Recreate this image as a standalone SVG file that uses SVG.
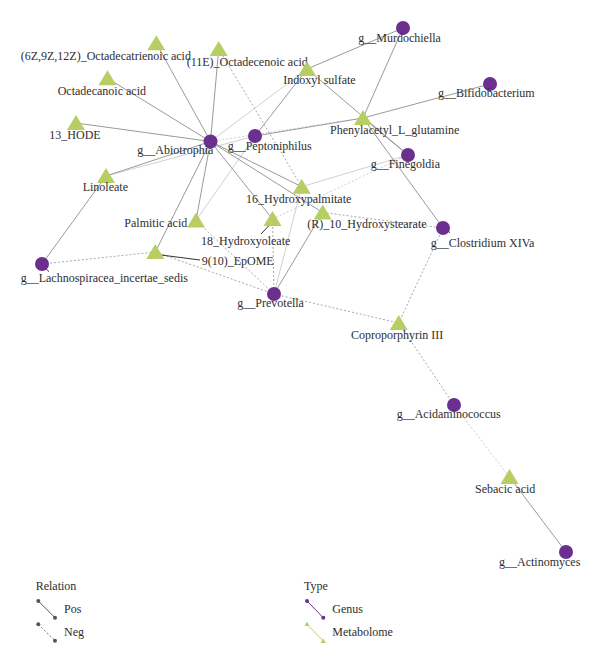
<svg xmlns="http://www.w3.org/2000/svg" width="600" height="664" viewBox="0 0 600 664">
<style>
text{font-family:"Liberation Serif","Times New Roman",serif;font-size:12px;fill:#2e2e2e}
.pos{stroke:#9a9a9a;stroke-width:1;fill:none}
.lp{stroke:#d0d0d0;stroke-width:1;fill:none}
.neg{stroke:#a8a8a8;stroke-width:1;stroke-dasharray:2 2;fill:none}
.ln{stroke:#cfcfcf;stroke-width:1;stroke-dasharray:2 2;fill:none}
.g{fill:#6b2f8f}
.m{fill:#b7ce63}
.lead{stroke:#333;stroke-width:1}
</style>
<defs>
<polygon id="tri" points="0,-8 -9,7 9,7"/>
</defs>
<rect width="600" height="664" fill="#fff"/>
<g id="connectors">
<line class="lp" x1="210.5" y1="141.5" x2="307" y2="69"/>
<line class="lp" x1="106" y1="176" x2="255" y2="136"/>
<line class="lp" x1="255" y1="136" x2="196" y2="220.5"/>
<line class="lp" x1="408" y1="155" x2="301.7" y2="186.7"/>
<line class="lp" x1="274" y1="294" x2="301.7" y2="186.7"/>
<line class="ln" x1="210.5" y1="141.5" x2="363" y2="118"/>
<line class="ln" x1="408" y1="155" x2="272.5" y2="219"/>
<line class="ln" x1="454" y1="405" x2="509.5" y2="477"/>
<line class="pos" x1="210.5" y1="141.5" x2="156.3" y2="43.3"/>
<line class="pos" x1="210.5" y1="141.5" x2="218.7" y2="49"/>
<line class="pos" x1="210.5" y1="141.5" x2="107.5" y2="78.3"/>
<line class="pos" x1="210.5" y1="141.5" x2="76" y2="123"/>
<line class="pos" x1="210.5" y1="141.5" x2="106" y2="176"/>
<line class="pos" x1="210.5" y1="141.5" x2="196" y2="220.5"/>
<line class="pos" x1="210.5" y1="141.5" x2="155.3" y2="252"/>
<line class="pos" x1="210.5" y1="141.5" x2="272.5" y2="219"/>
<line class="pos" x1="210.5" y1="141.5" x2="301.7" y2="186.7"/>
<line class="pos" x1="210.5" y1="141.5" x2="322.7" y2="212.5"/>
<line class="pos" x1="255" y1="136" x2="307" y2="69"/>
<line class="pos" x1="255" y1="136" x2="363" y2="118"/>
<line class="pos" x1="403" y1="28" x2="307" y2="69"/>
<line class="pos" x1="403" y1="28" x2="363" y2="118"/>
<line class="pos" x1="490" y1="84" x2="363" y2="118"/>
<line class="pos" x1="307" y1="69" x2="408" y2="155"/>
<line class="pos" x1="363" y1="118" x2="408" y2="155"/>
<line class="pos" x1="363" y1="118" x2="443" y2="228"/>
<line class="pos" x1="42" y1="264" x2="106" y2="176"/>
<line class="pos" x1="274" y1="294" x2="322.7" y2="212.5"/>
<line class="pos" x1="509.5" y1="477" x2="566" y2="552"/>
<line class="neg" x1="218.7" y1="49" x2="301.7" y2="186.7"/>
<line class="neg" x1="42" y1="264" x2="155.3" y2="252"/>
<line class="neg" x1="155.3" y1="252" x2="274" y2="294"/>
<line class="neg" x1="196" y1="220.5" x2="274" y2="294"/>
<line class="neg" x1="272.5" y1="219" x2="274" y2="294"/>
<line class="neg" x1="322.7" y1="212.5" x2="443" y2="228"/>
<line class="neg" x1="443" y1="228" x2="398.7" y2="323"/>
<line class="neg" x1="274" y1="294" x2="398.7" y2="323"/>
<line class="neg" x1="398.7" y1="323" x2="454" y2="405"/>
<line class="lead" x1="272.7" y1="221.7" x2="261" y2="234"/>
<line class="lead" x1="155.7" y1="254.3" x2="200" y2="260"/>
<line class="lead" x1="42.7" y1="265.7" x2="49" y2="271.7"/>
<line class="lead" x1="442.7" y1="226.7" x2="450" y2="232.7"/>
</g>
<g id="n-murdochiella"><circle class="g" cx="403" cy="28" r="7"/><text x="358.3" y="42">g__Murdochiella</text></g>
<g id="n-bifidobacterium"><circle class="g" cx="490" cy="84" r="7"/><text x="438" y="97">g__Bifidobacterium</text></g>
<g id="n-abiotrophia"><circle class="g" cx="210.5" cy="141.5" r="7"/><text x="137.3" y="154">g__Abiotrophia</text></g>
<g id="n-peptoniphilus"><circle class="g" cx="255" cy="136" r="7"/><text x="227.7" y="150">g__Peptoniphilus</text></g>
<g id="n-finegoldia"><circle class="g" cx="408" cy="155" r="7"/><text x="370.7" y="168">g__Finegoldia</text></g>
<g id="n-clostridium"><circle class="g" cx="443" cy="228" r="7"/><text x="430.7" y="247">g__Clostridium XIVa</text></g>
<g id="n-lachnospiracea"><circle class="g" cx="42" cy="264" r="7"/><text x="20.7" y="282">g__Lachnospiracea_incertae_sedis</text></g>
<g id="n-prevotella"><circle class="g" cx="274" cy="294" r="7"/><text x="237.3" y="307">g__Prevotella</text></g>
<g id="n-acidaminococcus"><circle class="g" cx="454" cy="405" r="7"/><text x="396.7" y="418">g__Acidaminococcus</text></g>
<g id="n-actinomyces"><circle class="g" cx="566" cy="552" r="7"/><text x="499" y="565.7">g__Actinomyces</text></g>
<g id="n-octadecatrienoic"><use href="#tri" class="m" x="156.3" y="43.3"/><text x="20.7" y="60">(6Z,9Z,12Z)_Octadecatrienoic acid</text></g>
<g id="n-octadecenoic"><use href="#tri" class="m" x="218.7" y="49"/><text x="186.7" y="66">(11E)_Octadecenoic acid</text></g>
<g id="n-octadecanoic"><use href="#tri" class="m" x="107.5" y="78.3"/><text x="57.7" y="95">Octadecanoic acid</text></g>
<g id="n-13hode"><use href="#tri" class="m" x="76" y="123"/><text x="49.3" y="139">13_HODE</text></g>
<g id="n-indoxyl"><use href="#tri" class="m" x="307" y="69"/><text x="283.3" y="84">Indoxyl sulfate</text></g>
<g id="n-phenylacetyl"><use href="#tri" class="m" x="363" y="118"/><text x="330" y="134">Phenylacetyl_L_glutamine</text></g>
<g id="n-linoleate"><use href="#tri" class="m" x="106" y="176"/><text x="82.7" y="190.7">Linoleate</text></g>
<g id="n-palmitic"><use href="#tri" class="m" x="196" y="220.5"/><text x="124.3" y="227">Palmitic acid</text></g>
<g id="n-16oh"><use href="#tri" class="m" x="301.7" y="186.7"/><text x="246" y="202.7">16_Hydroxypalmitate</text></g>
<g id="n-18oh"><use href="#tri" class="m" x="272.5" y="219"/><text x="201" y="245">18_Hydroxyoleate</text></g>
<g id="n-r10"><use href="#tri" class="m" x="322.7" y="212.5"/><text x="307.3" y="228">(R)_10_Hydroxystearate</text></g>
<g id="n-epome"><use href="#tri" class="m" x="155.3" y="252"/><text x="201.7" y="265">9(10)_EpOME</text></g>
<g id="n-copro"><use href="#tri" class="m" x="398.7" y="323"/><text x="351" y="338.5">Coproporphyrin III</text></g>
<g id="n-sebacic"><use href="#tri" class="m" x="509.5" y="477"/><text x="475" y="492.7">Sebacic acid</text></g>
<g id="legend">
<text x="35.7" y="590">Relation</text>
<line x1="38.3" y1="601" x2="55" y2="617.7" stroke="#555" stroke-width="1"/>
<circle cx="38.3" cy="601" r="2" fill="#555"/><circle cx="55" cy="617.7" r="2" fill="#555"/>
<text x="64" y="613.3">Pos</text>
<line x1="38.3" y1="624.3" x2="55" y2="640.7" stroke="#777" stroke-width="1" stroke-dasharray="2 2"/>
<circle cx="38.3" cy="624.3" r="2" fill="#555"/><circle cx="55" cy="640.7" r="2" fill="#555"/>
<text x="64" y="636">Neg</text>
<text x="304" y="590">Type</text>
<line x1="307" y1="601" x2="323.3" y2="617.7" stroke="#6b2f8f" stroke-width="1"/>
<circle cx="307" cy="601" r="2" fill="#6b2f8f"/><circle cx="323.3" cy="617.7" r="2" fill="#6b2f8f"/>
<text x="332.3" y="613.3">Genus</text>
<line x1="307" y1="624.3" x2="323.3" y2="641" stroke="#b7ce63" stroke-width="1"/>
<polygon points="307,621.5 304.5,626 309.5,626" fill="#b7ce63"/><polygon points="323.3,638.5 320.8,643 325.8,643" fill="#b7ce63"/>
<text x="332.3" y="636">Metabolome</text>
</g>
</svg>
